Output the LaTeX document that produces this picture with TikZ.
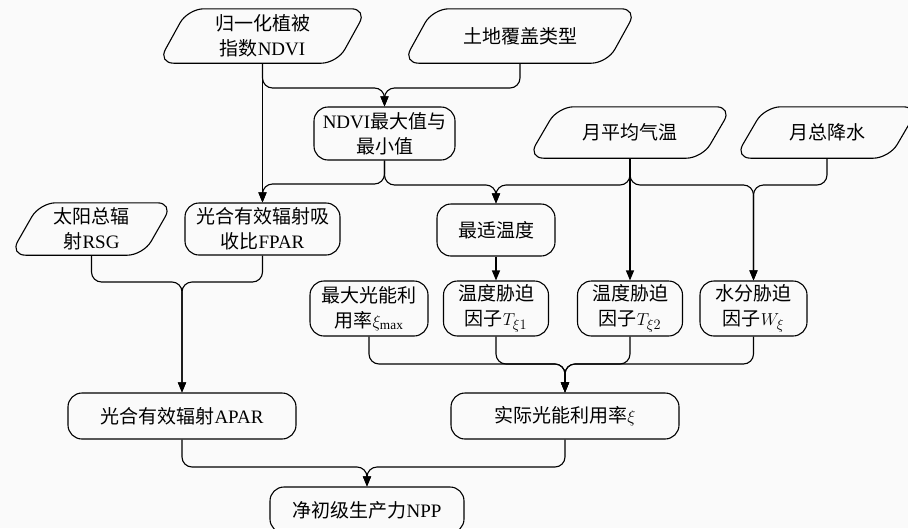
\documentclass[tikz,border=0pt]{standalone}
\usepackage{fontspec}
\setmainfont{Liberation Serif}
\newfontfamily\cjk{Noto Sans CJK SC}
\usetikzlibrary{arrows.meta,calc}
\newcommand\zh[1]{{\cjk #1}}
\newcommand\fsz{\fontsize{19}{25}\selectfont}
\tikzset{
  proc/.style={draw, line width=1.1pt, rounded corners=14pt, align=center, inner sep=0pt, font=\fsz},
  inp/.style={align=center, inner sep=0pt, font=\fsz},
  inpshape/.style={draw, line width=1.1pt, rounded corners=16pt},
  conn/.style={draw, line width=1.1pt, rounded corners=10pt, -{Triangle[length=10pt,width=8pt]}},
}
\newcommand\paral[2]{%
  \draw[inpshape] (#1.north) -- (#1.north east) -- ($(#1.south east)+(-#2,0)$) -- (#1.south west) -- ($(#1.north west)+(#2,0)$) -- cycle;}
\begin{document}
\begin{tikzpicture}[x=1pt,y=-1pt]
\fill[white!98!black] (0,0) rectangle (908,528);
\useasboundingbox (0,0) rectangle (908,528);

% inputs
\node[inp, minimum width=209pt, minimum height=54pt] (ndvi) at (262.5,36) {\zh{归一化植被}\\\zh{指数}NDVI};
\node[inp, minimum width=234pt, minimum height=54pt] (land) at (520,36) {\zh{土地覆盖类型}};
\node[inp, minimum width=204pt, minimum height=51pt] (temp) at (630,132.5) {\zh{月平均气温}};
\node[inp, minimum width=184pt, minimum height=51pt] (prec) at (827,132.5) {\zh{月总降水}};
\node[inp, minimum width=163pt, minimum height=52pt] (solar) at (91.5,229) {\zh{太阳总辐}\\\zh{射}RSG};
\paral{ndvi}{30}
\paral{land}{30}
\paral{temp}{30}
\paral{prec}{30}
\paral{solar}{30}

% processes
\node[proc, minimum width=141pt, minimum height=53pt] (mm) at (384.5,133.5) {NDVI\zh{最大值与}\\\zh{最小值}};
\node[proc, minimum width=155pt, minimum height=52pt] (fpar) at (262.5,229) {\zh{光合有效辐射吸}\\\zh{收比}FPAR};
\node[proc, minimum width=118pt, minimum height=52pt] (opt) at (496,230) {\zh{最适温度}};
\node[proc, minimum width=118pt, minimum height=55pt] (ximax) at (369,308.5) {\zh{最大光能利}\\\zh{用率}$\xi_{\max}$};
\node[proc, minimum width=105pt, minimum height=55pt] (t1) at (496,308.5) {\zh{温度胁迫}\\\zh{因子}$T_{\xi1}$};
\node[proc, minimum width=105pt, minimum height=55pt] (t2) at (630,308.5) {\zh{温度胁迫}\\\zh{因子}$T_{\xi2}$};
\node[proc, minimum width=107pt, minimum height=55pt] (wx) at (753.5,308.5) {\zh{水分胁迫}\\\zh{因子}$W_{\xi}$};
\node[proc, minimum width=228pt, minimum height=46pt] (apar) at (182,416) {\zh{光合有效辐射}APAR};
\node[proc, minimum width=228pt, minimum height=46pt] (lue) at (565,416) {\zh{实际光能利用率}$\xi$};
\node[proc, minimum width=194pt, minimum height=46pt] (npp) at (367,510) {\zh{净初级生产力}NPP};

% merge points
\coordinate (m1) at (384.5,88);
\coordinate (m2) at (262.5,184);
\coordinate (m3) at (496,185);
\coordinate (m4) at (753.5,185);
\coordinate (m5) at (182,282);
\coordinate (m6) at (565,364);
\coordinate (m7) at (367,467);

% connectors
\path[conn] (ndvi.south) |- (m1) -- (mm.north);
\path[conn] (land.south) |- (m1) -- (mm.north);
\path[conn] (ndvi.south) -- (fpar.north);
\path[conn] (mm.south) |- (m2) -- (fpar.north);
\path[conn] (mm.south) |- (m3) -- (opt.north);
\path[conn] (temp.south) |- (m3) -- (opt.north);
\path[conn] (temp.south) -- (t2.north);
\path[conn] (temp.south) |- (m4) -- (wx.north);
\path[conn] (prec.south) |- (m4) -- (wx.north);
\path[conn] (opt.south) -- (t1.north);
\path[conn] (solar.south) |- (m5) -- (apar.north);
\path[conn] (fpar.south) |- (m5) -- (apar.north);
\path[conn] (ximax.south) |- (m6) -- (lue.north);
\path[conn] (t1.south) |- (m6) -- (lue.north);
\path[conn] (t2.south) |- (m6) -- (lue.north);
\path[conn] (wx.south) |- (m6) -- (lue.north);
\path[conn] (apar.south) |- (m7) -- (npp.north);
\path[conn] (lue.south) |- (m7) -- (npp.north);
\end{tikzpicture}
\end{document}
